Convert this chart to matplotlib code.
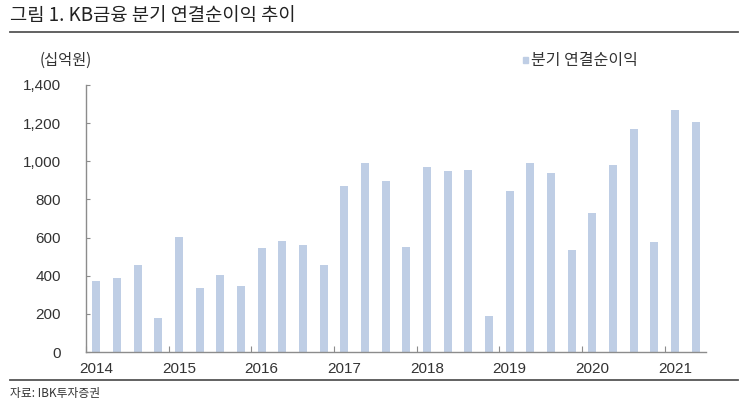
import matplotlib
matplotlib.use("Agg")
import matplotlib.pyplot as plt
import numpy as np

plt.rcParams['font.family'] = ['Noto Sans CJK KR', 'DejaVu Sans']

years = ['2014', '2015', '2016', '2017', '2018', '2019', '2020', '2021']
values = [373, 388, 455, 177, 604, 338, 404, 345,
          544, 581, 563, 455, 871, 989, 896, 553,
          968, 947, 952, 189, 845, 989, 940, 534,
          730, 982, 1167, 577, 1270, 1204]
series_name = '분기 연결순이익'
y_ticks = [0, 200, 400, 600, 800, 1000, 1200, 1400]
title = '그림 1. KB금융 분기 연결순이익 추이'
unit = '(십억원)'
source = '자료: IBK투자증권'

bar_color = '#BFCEE5'
text_color = '#333333'
spine_color = '#8C8C8C'
num_font = ['Liberation Sans', 'DejaVu Sans']

fig = plt.figure(figsize=(7.45, 4.16), dpi=100)
ax = fig.add_axes([86/745, 64/416, 620/745, 267/416])

x = np.arange(len(values))
ax.bar(x, values, width=0.4, color=bar_color, zorder=2)
ax.set_xlim(-0.5, len(values) - 0.5)
ax.set_ylim(0, 1400)
ax.set_yticks(y_ticks)
ax.set_yticklabels([f'{v:,}' for v in y_ticks], fontsize=11, color=text_color, family=num_font)

ax.set_xticks(np.arange(-0.5, len(values), 4))
ax.set_xticklabels([])
ax.set_xticks(np.arange(0, len(values), 4), minor=True)
ax.set_xticklabels(years, minor=True, fontsize=11, color=text_color, family=num_font)
ax.tick_params(axis='x', which='major', direction='in', length=4, color=spine_color)
ax.tick_params(axis='x', which='minor', length=0, pad=7)
ax.tick_params(axis='y', direction='in', length=3, color=spine_color, pad=18)

for s in ['top', 'right']:
    ax.spines[s].set_visible(False)
for s in ['left', 'bottom']:
    ax.spines[s].set_color(spine_color)
    ax.spines[s].set_linewidth(1.0)

# title and rules
fig.text(10/745, 1 - 16/416, title, fontsize=13.5, color='#222222', va='center', ha='left',
         fontweight='medium')
fig.add_artist(plt.Line2D([10/745, 738/745], [1 - 32/416, 1 - 32/416], color='#555555', lw=1.3))
fig.add_artist(plt.Line2D([10/745, 738/745], [1 - 380/416, 1 - 380/416], color='#555555', lw=1.3))
fig.text(40/745, 1 - 60/416, unit, fontsize=11, color=text_color, va='center', ha='left')
fig.text(10/745, 1 - 394/416, source, fontsize=8.5, color=text_color, va='center', ha='left')

# legend
fig.add_artist(plt.Rectangle((523/745, 1 - 63/416), 5/745, 6/416, color=bar_color,
                             transform=fig.transFigure))
fig.text(531/745, 1 - 60/416, series_name, fontsize=11.5, color=text_color, va='center', ha='left')

fig.savefig('out.png', dpi=100)
